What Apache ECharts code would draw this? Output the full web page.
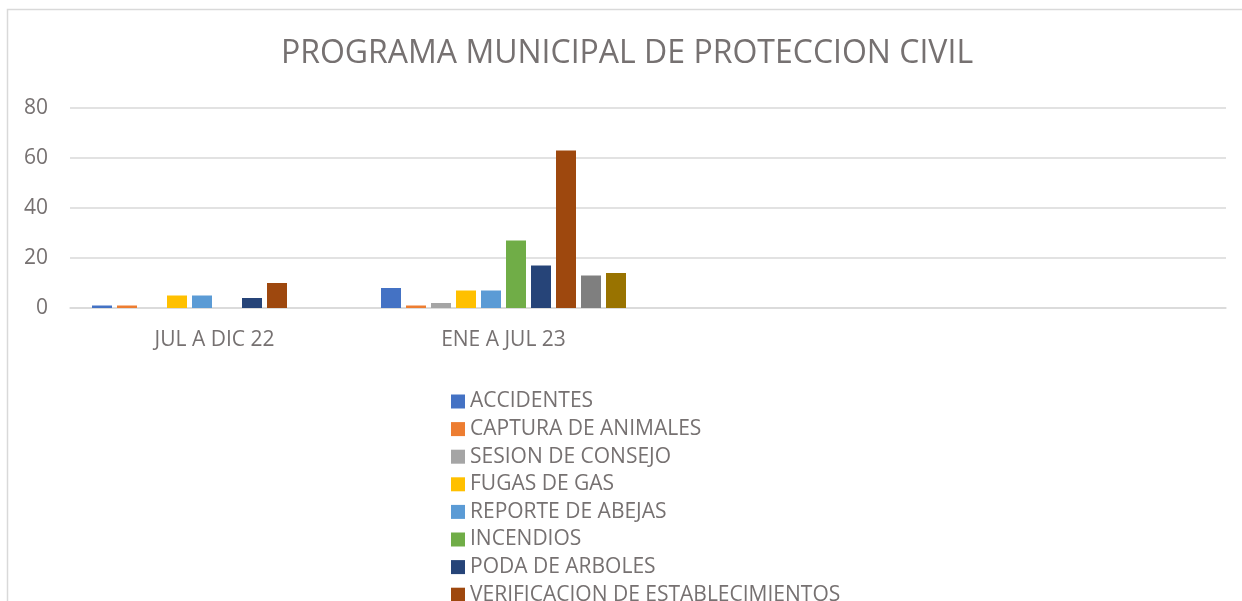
<!DOCTYPE html>
<html>
<head>
<meta charset="utf-8">
<script src="https://cdn.jsdelivr.net/npm/echarts@6/dist/echarts.min.js"></script>
<style>
html,body{margin:0;padding:0;background:#fff;}
#c{width:1242px;height:601px;}
</style>
</head>
<body>
<div id="c"></div>
<script>
const categories = ['JUL A DIC 22', 'ENE A JUL 23', '', ''];
const seriesNames = ['ACCIDENTES', 'CAPTURA DE ANIMALES', 'SESION DE CONSEJO', 'FUGAS DE GAS', 'REPORTE DE ABEJAS', 'INCENDIOS', 'PODA DE ARBOLES', 'VERIFICACION DE ESTABLECIMIENTOS', 'OTROS SERVICIOS', 'APOYOS'];
const accidentes = [1, 8, null, null];
const capturaAnimales = [1, 1, null, null];
const sesionConsejo = [0, 2, null, null];
const fugasGas = [5, 7, null, null];
const reporteAbejas = [5, 7, null, null];
const incendios = [0, 27, null, null];
const podaArboles = [4, 17, null, null];
const verificacion = [10, 63, null, null];
const otrosServicios = [0, 13, null, null];
const apoyos = [0, 14, null, null];
const yTicks = [0, 20, 40, 60, 80];

const seriesValues = [accidentes, capturaAnimales, sesionConsejo, fugasGas, reporteAbejas, incendios, podaArboles, verificacion, otrosServicios, apoyos];
const colors = ['#4472C4', '#ED7D31', '#A5A5A5', '#FFC000', '#5B9BD5', '#70AD47', '#264478', '#9E480E', '#7F7F7F', '#997300'];

const FONT = 'Open Sans';
const TXT = '#767171';

const chart = echarts.init(document.getElementById('c'), null, {renderer: 'canvas'});
chart.setOption({
  animation: false,
  color: colors,
  title: {
    text: 'PROGRAMA MUNICIPAL DE PROTECCION CIVIL',
    left: 627, textAlign: 'center', top: 38,
    padding: 0,
    textStyle: {fontFamily: FONT, fontSize: 32, fontWeight: 'normal', color: TXT}
  },
  graphic: [
    {type: 'polyline', shape: {points: [[7.5, 601], [7.5, 9.5], [1242, 9.5]]}, style: {stroke: '#D9D9D9', lineWidth: 1.5, fill: null}, silent: true}
  ],
  grid: {left: 70, right: 16, top: 108, bottom: 293, containLabel: false},
  xAxis: {
    type: 'category', data: categories,
    axisTick: {show: false},
    axisLine: {lineStyle: {color: '#D9D9D9', width: 1.5}},
    axisLabel: {fontFamily: FONT, fontSize: 21, color: TXT, margin: 22}
  },
  yAxis: {
    type: 'value', min: yTicks[0], max: yTicks[yTicks.length - 1], interval: 20,
    axisLine: {show: false}, axisTick: {show: false},
    splitLine: {lineStyle: {color: '#D9D9D9', width: 1.5}},
    axisLabel: {fontFamily: FONT, fontSize: 21, color: TXT, margin: 22}
  },
  legend: {
    orient: 'vertical', left: 446, top: 386, height: 1000,
    itemWidth: 14, itemHeight: 14, itemGap: 6.6,
    icon: 'rect',
    textStyle: {fontFamily: FONT, fontSize: 21, color: TXT},
    data: seriesNames
  },
  series: seriesNames.map((n, i) => ({
    name: n, type: 'bar', data: seriesValues[i],
    barWidth: 20, barGap: '25%'
  }))
});
</script>
</body>
</html>
